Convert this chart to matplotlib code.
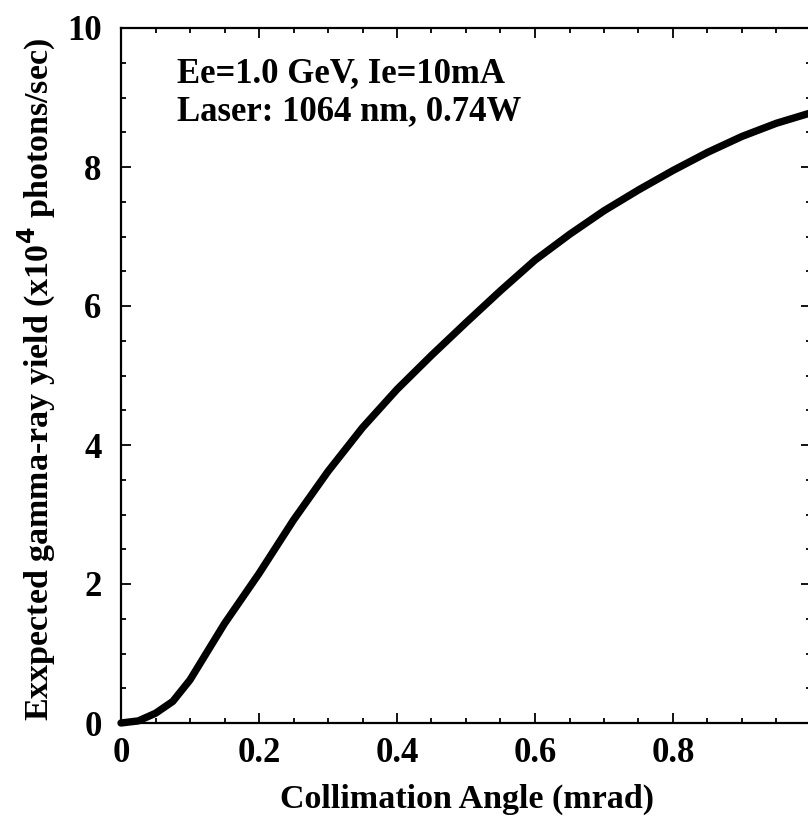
import matplotlib
matplotlib.use("Agg")
import matplotlib.pyplot as plt
from matplotlib.ticker import MultipleLocator

# collimation angle (mrad) vs expected yield (x10^4 photons/sec)
angle = [0, 0.025, 0.05, 0.075, 0.1, 0.15, 0.2, 0.25, 0.3, 0.35, 0.4, 0.45, 0.5,
         0.55, 0.6, 0.65, 0.7, 0.75, 0.8, 0.85, 0.9, 0.95, 1.0]
yield_ = [0, 0.03, 0.14, 0.31, 0.62, 1.43, 2.15, 2.92, 3.62, 4.25, 4.80, 5.29, 5.76,
          6.22, 6.66, 7.03, 7.37, 7.67, 7.95, 8.21, 8.44, 8.63, 8.78]

xticks = [0, 0.2, 0.4, 0.6, 0.8, 1.0]
xticklabels = ["0", "0.2", "0.4", "0.6", "0.8", ""]
yticks = [0, 2, 4, 6, 8, 10]
notes = ["Ee=1.0 GeV, Ie=10mA", "Laser: 1064 nm, 0.74W"]

plt.rcParams["font.family"] = ["Liberation Serif", "DejaVu Serif"]
plt.rcParams["font.weight"] = "bold"

fig = plt.figure(figsize=(8.08, 8.19), dpi=100)
ax = fig.add_axes([121 / 808, 96 / 819, 690 / 808, 695 / 819])

ax.plot(angle, yield_, color="black", lw=5.3, solid_capstyle="round",
        solid_joinstyle="round", clip_on=False)

ax.set_xlim(0, 1)
ax.set_ylim(0, 10)
ax.set_xticks(xticks)
ax.set_xticklabels(xticklabels)
ax.set_yticks(yticks)
ax.xaxis.set_minor_locator(MultipleLocator(0.05))
ax.yaxis.set_minor_locator(MultipleLocator(0.5))
ax.tick_params(which="both", direction="in", top=True, right=True, width=1.3)
ax.tick_params(which="major", length=7, labelsize=25)
ax.tick_params(axis="x", which="major", pad=10)
ax.tick_params(axis="y", which="major", pad=14)
ax.tick_params(which="minor", length=3.5)
for s in ax.spines.values():
    s.set_linewidth(1.6)

ax.set_xlabel("Collimation Angle (mrad)", fontsize=24.5, fontweight="bold")
ax.set_ylabel("Exxpected gamma-ray yield (x10$^{\\mathbf{4}}$ photons/sec)",
              fontsize=24.5, fontweight="bold")
ax.xaxis.set_label_coords(0.502, -0.088)
ax.yaxis.set_label_coords(-0.091, 0.495)

ax.text(0.0807, 0.9227, notes[0], transform=ax.transAxes, fontsize=25,
        fontweight="bold", va="baseline")
ax.text(0.0807, 0.8676, notes[1], transform=ax.transAxes, fontsize=25,
        fontweight="bold", va="baseline")

fig.savefig("out.png", dpi=100)
